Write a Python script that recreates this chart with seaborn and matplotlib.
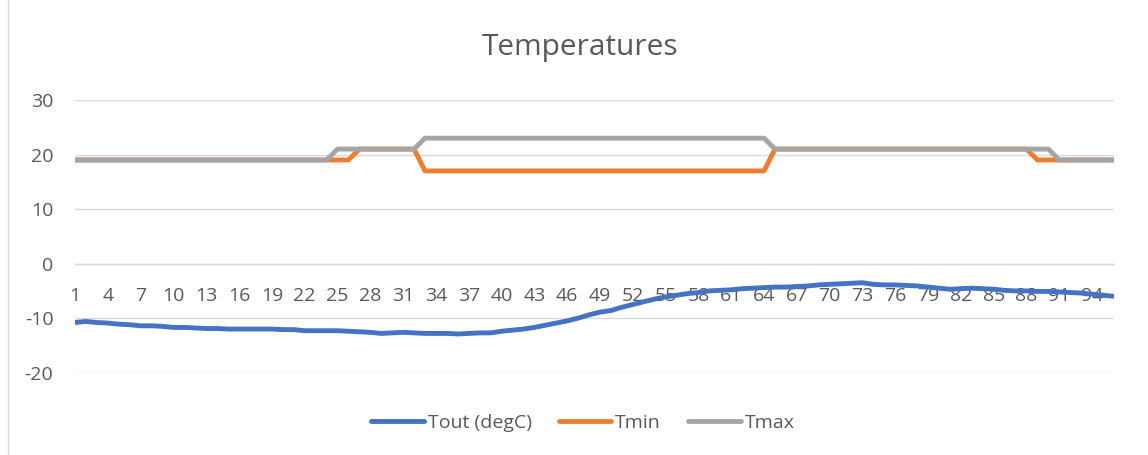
import numpy as np
import pandas as pd
import matplotlib
matplotlib.use("Agg")
import matplotlib.pyplot as plt
import seaborn as sns

# ---- data -------------------------------------------------------------
steps = list(range(1, 97))

tout = [
    -10.8, -10.6, -10.8, -10.9, -11.1, -11.2, -11.4, -11.4, -11.5, -11.7,
    -11.7, -11.8, -11.9, -11.9, -12.0, -12.0, -12.0, -12.0, -12.0, -12.1,
    -12.1, -12.3, -12.3, -12.3, -12.3, -12.4, -12.5, -12.6, -12.8, -12.7,
    -12.6, -12.7, -12.8, -12.8, -12.8, -12.9, -12.8, -12.7, -12.7, -12.4,
    -12.2, -12.0, -11.7, -11.3, -10.9, -10.5, -10.0, -9.4, -8.9, -8.6,
    -8.0, -7.5, -7.0, -6.5, -6.1, -5.8, -5.5, -5.3, -5.0, -4.9,
    -4.8, -4.6, -4.5, -4.4, -4.3, -4.3, -4.2, -4.1, -3.9, -3.8,
    -3.7, -3.6, -3.5, -3.8, -3.9, -3.9, -4.0, -4.1, -4.3, -4.5,
    -4.7, -4.6, -4.5, -4.6, -4.7, -4.9, -5.0, -5.0, -5.1, -5.1,
    -5.2, -5.3, -5.4, -5.6, -5.8, -6.0,
]

tmin = [19] * 26 + [21] * 6 + [17] * 32 + [21] * 24 + [19] * 8
tmax = [19] * 24 + [21] * 8 + [23] * 32 + [21] * 26 + [19] * 6

series_names = ["Tout (degC)", "Tmin", "Tmax"]
series_colors = ["#4472C4", "#ED7D31", "#A5A5A5"]

x_tick_values = list(range(1, 97, 3))
x_tick_labels = [str(v) for v in x_tick_values]
y_tick_values = [-20, -10, 0, 10, 20, 30]

# ---- long-form table ---------------------------------------------------
wide = pd.DataFrame({"step": steps,
                     series_names[0]: tout,
                     series_names[1]: tmin,
                     series_names[2]: tmax})
long = wide.melt(id_vars="step", var_name="series", value_name="value")

# ---- styling -----------------------------------------------------------
sns.set_style("white")
plt.rcParams["font.family"] = ["Open Sans", "DejaVu Sans"]
text_color = "#595959"
grid_color = "#D9D9D9"
label_size = 14

W, H = 1148, 455
fig = plt.figure(figsize=(W / 100, H / 100), dpi=100)
ax = fig.add_axes([75 / W, 1 - 372.7 / H, (1114 - 75) / W, (372.7 - 100) / H])

sns.lineplot(data=long, x="step", y="value", hue="series",
             hue_order=series_names,
             palette=dict(zip(series_names, series_colors)),
             linewidth=3.5, ax=ax, legend=False, zorder=3)
for ln in ax.lines:
    ln.set_solid_joinstyle("round")
    ln.set_solid_capstyle("butt")

ax.set_xlim(1, 96)
ax.set_ylim(-20, 30)
ax.set_yticks(y_tick_values)
ax.set_yticklabels([str(v) for v in y_tick_values])
ax.set_xticks(x_tick_values)
ax.set_xticklabels(x_tick_labels)
ax.set_xlabel("")
ax.set_ylabel("")

ax.yaxis.grid(True, color=grid_color, linewidth=1.0, zorder=0)
ax.xaxis.grid(False)
for side in ["top", "right", "left"]:
    ax.spines[side].set_visible(False)
ax.spines["bottom"].set_position(("data", 0))
ax.spines["bottom"].set_color(grid_color)
ax.spines["bottom"].set_linewidth(1.0)
ax.set_axisbelow(True)

ax.tick_params(axis="y", length=0, pad=15.5, labelsize=label_size, labelcolor=text_color)
ax.tick_params(axis="x", length=0, pad=16.5, labelsize=label_size, labelcolor=text_color)

# title
fig.text(580 / W, 1 - 48 / H, "Temperatures", ha="center", va="center",
         fontsize=21.5, color=text_color)

# legend
handles = [plt.Line2D([], [], color=c, linewidth=3.5, solid_capstyle="round")
           for c in series_colors]
leg = fig.legend(handles, series_names, loc="center",
                 bbox_to_anchor=(583 / W, 1 - 423 / H), ncol=3, frameon=False,
                 fontsize=label_size, handlelength=2.7, handletextpad=0.2,
                 columnspacing=1.4)
for t in leg.get_texts():
    t.set_color(text_color)

# chart-area border on the left
fig.add_artist(plt.Line2D([7.5 / W, 7.5 / W], [0, 1], color=grid_color,
                          linewidth=1.0, transform=fig.transFigure))

fig.savefig("out.png", dpi=100)
